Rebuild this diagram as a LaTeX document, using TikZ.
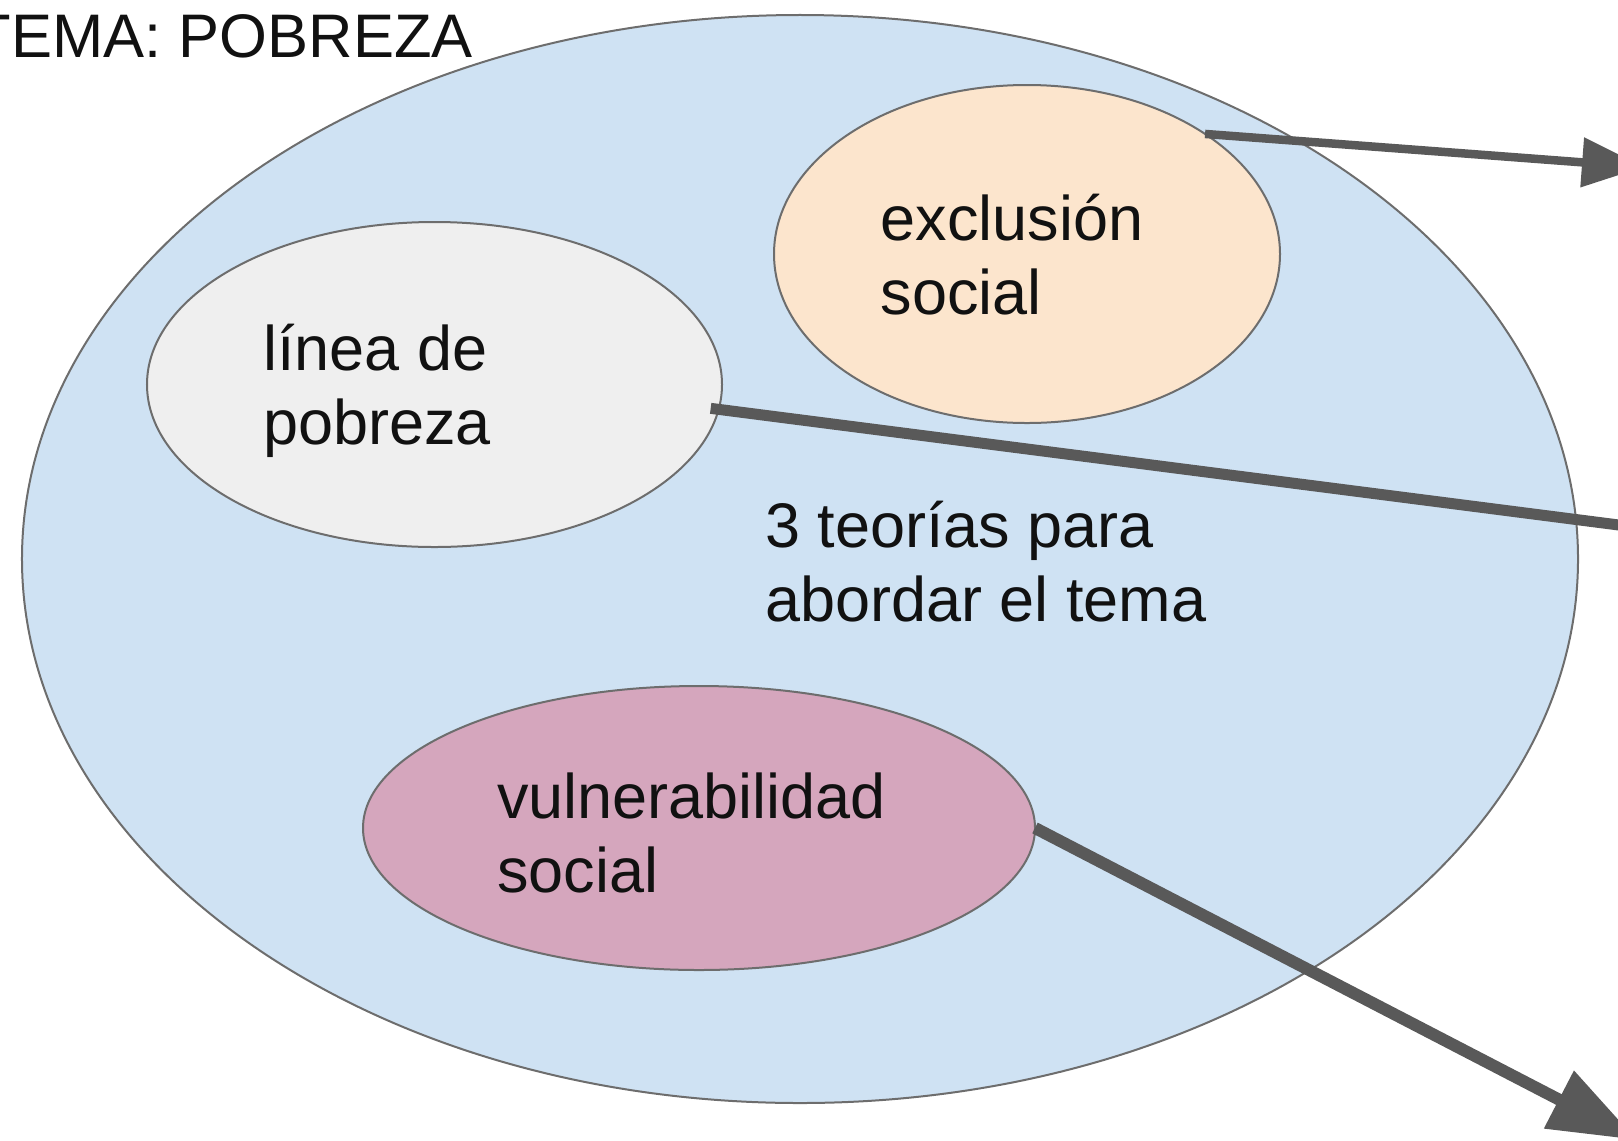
\documentclass[tikz,border=0pt]{standalone}
\usepackage{fontspec}
\setmainfont{Liberation Sans}
\usetikzlibrary{shapes.geometric,arrows.meta}
\definecolor{bigblue}{HTML}{CFE2F3}
\definecolor{exorange}{HTML}{FCE5CD}
\definecolor{lngray}{HTML}{EFEFEF}
\definecolor{vupink}{HTML}{D5A6BD}
\definecolor{edgegray}{HTML}{6D6D6D}
\definecolor{arrowgray}{HTML}{595959}
\definecolor{textblack}{HTML}{111111}
\tikzset{
  blob/.style={ellipse, draw=edgegray, line width=2bp, inner sep=0pt, outer sep=0pt},
  lbl/.style={font=\fontsize{63bp}{74bp}\selectfont, text=textblack, align=left, inner sep=0pt, anchor=north west},
  conn/.style={draw=arrowgray, line cap=butt},
}
\newcommand{\tstrut}{\rule{0pt}{57bp}}
\begin{document}
\begin{tikzpicture}[x=1bp,y=-1bp]
\useasboundingbox (0,0) rectangle (1618,1140);
% ellipses
\node[blob, fill=bigblue, minimum width=1556bp, minimum height=1088bp] (big) at (800,559) {};
\node[blob, fill=exorange, minimum width=506bp, minimum height=338bp] (ex) at (1027,254) {};
\node[blob, fill=lngray, minimum width=575bp, minimum height=325bp] (ln) at (434.5,384.5) {};
\node[blob, fill=vupink, minimum width=672bp, minimum height=284bp] (vu) at (699,828) {};
% texts
\node[font=\fontsize{61.5bp}{72bp}\selectfont, text=textblack, inner sep=0pt, anchor=base east] (title) at (473,57) {TEMA: POBREZA};
\node[lbl] (extxt) at (880.5,183) {\tstrut exclusión\\social};
\node[lbl] (lntxt) at (263,313) {\tstrut línea de\\pobreza};
\node[lbl] (bigtxt) at (765,490) {\tstrut 3 teorías para\\abordar el tema};
\node[lbl] (vutxt) at (497,761) {\tstrut vulnerabilidad\\social};
% free ends
\coordinate (t1) at (1644,167);
\coordinate (t2) at (1720,538);
\coordinate (t3) at (1637,1140);
% connectors
\draw[conn, line width=8.5bp, -{Triangle[length=62bp,width=48bp]}] (ex.34.7) -- (t1);
\draw[conn, line width=11bp, shorten <=-8bp, -{Triangle[length=80bp,width=58bp]}] (ln.-5.5) -- (t2);
\draw[conn, line width=12bp, -{Triangle[length=88bp,width=62bp]}] (vu.east) -- (t3);
\end{tikzpicture}
\end{document}
